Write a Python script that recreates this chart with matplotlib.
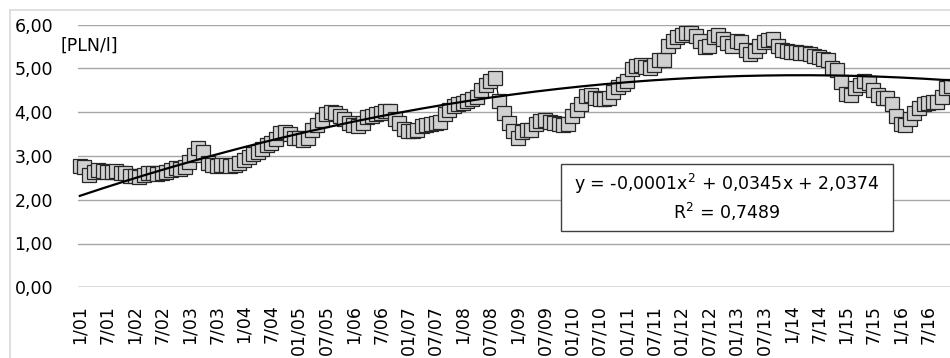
import numpy as np
import matplotlib
matplotlib.use('Agg')
import matplotlib.pyplot as plt
from matplotlib.patches import Rectangle
from matplotlib.lines import Line2D

# monthly price [PLN/l], Jan 2001 - Dec 2016
y2001 = [2.76, 2.74, 2.56, 2.64, 2.67, 2.66, 2.63, 2.64, 2.65, 2.62, 2.60, 2.55]
y2002 = [2.53, 2.52, 2.56, 2.60, 2.62, 2.58, 2.60, 2.64, 2.68, 2.72, 2.70, 2.75]
y2003 = [2.86, 3.02, 3.17, 3.10, 2.84, 2.79, 2.78, 2.79, 2.80, 2.78, 2.80, 2.84]
y2004 = [2.90, 2.97, 3.04, 3.10, 3.15, 3.25, 3.30, 3.38, 3.52, 3.55, 3.50, 3.42]
y2005 = [3.40, 3.36, 3.42, 3.58, 3.70, 3.82, 3.95, 4.00, 3.98, 3.92, 3.85, 3.74]
y2006 = [3.70, 3.68, 3.75, 3.88, 3.92, 3.95, 3.98, 4.03, 4.02, 3.85, 3.75, 3.62]
y2007 = [3.57, 3.56, 3.60, 3.68, 3.70, 3.72, 3.75, 3.78, 3.95, 4.05, 4.15, 4.18]
y2008 = [4.20, 4.25, 4.30, 4.35, 4.50, 4.62, 4.72, 4.78, 4.26, 3.97, 3.75, 3.56]
y2009 = [3.40, 3.55, 3.58, 3.60, 3.72, 3.80, 3.82, 3.78, 3.75, 3.72, 3.70, 3.72]
y2010 = [3.90, 4.05, 4.18, 4.36, 4.38, 4.32, 4.30, 4.30, 4.32, 4.45, 4.57, 4.65]
y2011 = [4.70, 4.98, 5.05, 5.07, 5.02, 5.00, 5.08, 5.18, 5.20, 5.50, 5.62, 5.72]
y2012 = [5.76, 5.80, 5.81, 5.74, 5.62, 5.48, 5.50, 5.72, 5.75, 5.66, 5.58, 5.52]
y2013 = [5.62, 5.60, 5.42, 5.33, 5.40, 5.52, 5.60, 5.64, 5.66, 5.50, 5.42, 5.40]
y2014 = [5.38, 5.37, 5.36, 5.35, 5.32, 5.29, 5.26, 5.22, 5.18, 5.00, 4.95, 4.68]
y2015 = [4.42, 4.40, 4.55, 4.62, 4.70, 4.66, 4.50, 4.38, 4.32, 4.32, 4.18, 3.90]
y2016 = [3.72, 3.70, 3.85, 3.98, 4.10, 4.18, 4.20, 4.22, 4.24, 4.35, 4.55, 4.60]

prices = (y2001 + y2002 + y2003 + y2004 + y2005 + y2006 + y2007 + y2008 +
          y2009 + y2010 + y2011 + y2012 + y2013 + y2014 + y2015 + y2016)

tick_labels = ['1/01', '7/01', '1/02', '7/02', '1/03', '7/03', '1/04', '7/04',
               '01/05', '07/05', '1/06', '7/06', '01/07', '07/07', '1/08', '07/08',
               '1/09', '07/09', '01/10', '07/10', '01/11', '07/11', '01/12', '07/12',
               '01/13', '07/13', '1/14', '7/14', '1/15', '7/15', '1/16', '7/16']
y_ticks = [0, 1, 2, 3, 4, 5, 6]

eq_text = 'y = -0,0001x$^2$ + 0,0345x + 2,0374'
r2_text = 'R$^2$ = 0,7489'

plt.rcParams['font.family'] = ['DejaVu Sans']
plt.rcParams['mathtext.default'] = 'regular'

x = np.arange(len(prices))
# 2nd order polynomial trendline (excel numbers x from 1)
coef = np.polyfit(x + 1, prices, 2)
trend = np.polyval(coef, x + 1)

fig = plt.figure(figsize=(9.5, 3.58), dpi=100)
ax = fig.add_axes([78 / 950, 70.7 / 358, 872 / 950, 262.8 / 358])

ax.plot(x, prices, color='black', lw=0.8, marker='s', markersize=9.6,
        markerfacecolor='#D0D0D0', markeredgecolor='#262626',
        markeredgewidth=0.9, clip_on=False, zorder=3)
ax.plot(x, trend, color='black', lw=1.6, zorder=4)

ax.set_xlim(-0.4, 190.8)
ax.set_ylim(0, 6)
ax.set_yticks(y_ticks)
ax.set_yticklabels(['%d,00' % v for v in y_ticks], fontsize=12.5)
ax.set_xticks(np.arange(0, len(tick_labels) * 6, 6))
ax.set_xticklabels(tick_labels, rotation=90, fontsize=12.5, va='top', ha='center')
ax.tick_params(axis='both', length=0)
ax.tick_params(axis='y', pad=18)
ax.tick_params(axis='x', pad=12.5)
ax.grid(axis='y', color='#A6A6A6', lw=1.0)
ax.set_axisbelow(True)
for s in ax.spines.values():
    s.set_visible(False)
ax.axhline(0, color='#D9D9D9', lw=1.2, zorder=1)

# box with the equation
ax.add_patch(Rectangle((0.554, 0.214), 0.381, 0.255, transform=ax.transAxes,
                       facecolor='white', edgecolor='#404040', lw=1.0, zorder=5))
ax.text(0.7445, 0.392, eq_text, transform=ax.transAxes, ha='center', va='center',
        fontsize=12.5, zorder=6)
ax.text(0.7445, 0.285, r2_text, transform=ax.transAxes, ha='center', va='center',
        fontsize=12.5, zorder=6)

fig.text(60 / 950, 1 - 46 / 358, '[PLN/l]', fontsize=12.5, ha='left', va='center')

# chart area border, only top and left are inside the picture
fig.add_artist(Line2D([9.5 / 950, 9.5 / 950], [0, 1 - 9.5 / 358],
                      transform=fig.transFigure, color='#D9D9D9', lw=1.2))
fig.add_artist(Line2D([9.5 / 950, 1], [1 - 9.5 / 358, 1 - 9.5 / 358],
                      transform=fig.transFigure, color='#D9D9D9', lw=1.2))

fig.savefig('out.png', dpi=100)
